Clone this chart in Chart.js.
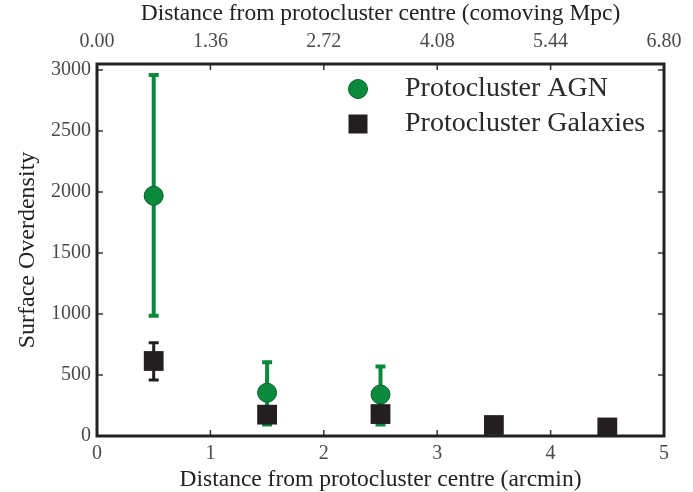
<!DOCTYPE html>
<html>
<head>
<meta charset="utf-8">
<script src="https://cdn.jsdelivr.net/npm/chart.js@4"></script>
<style>
  body { margin: 0; background: #fff; }
  #wrap { width: 693px; height: 492px; }
</style>
</head>
<body>
<div id="wrap"><canvas id="overdensityChart"></canvas></div>
<script>
// values
const agnX = [0.5, 1.5, 2.5];
const agnY = [1970, 355, 340];
const agnLow = [985, 95, 95];
const agnHigh = [2960, 605, 570];

const galX = [0.5, 1.5, 2.5, 3.5, 4.5];
const galY = [615, 175, 180, 90, 70];
const galLow = [460, 130, 135, 60, 45];
const galHigh = [765, 215, 220, 120, 95];

const bottomTicks = [0, 1, 2, 3, 4, 5];
const topTicks = [0, 1.36, 2.72, 4.08, 5.44, 6.80];
const leftTicks = [0, 500, 1000, 1500, 2000, 2500, 3000];

const green = '#0b8a3e';
const black = '#231f20';
const serif = '"Liberation Serif", "DejaVu Serif", serif';

const errorBars = [
    { x: agnX, low: agnLow, high: agnHigh, color: green, width: 4 },
    { x: galX, low: galLow, high: galHigh, color: black, width: 3 }
];

const errorBarPlugin = {
    id: 'errorBars',
    beforeDatasetsDraw(chart) {
        const ctx = chart.ctx;
        const xs = chart.scales.x, ys = chart.scales.y;
        ctx.save();
        errorBars.forEach(set => {
            ctx.strokeStyle = set.color;
            ctx.lineWidth = set.width;
            set.x.forEach((xv, i) => {
                const px = xs.getPixelForValue(xv);
                const top = ys.getPixelForValue(set.high[i]);
                const bot = ys.getPixelForValue(set.low[i]);
                ctx.beginPath();
                ctx.moveTo(px, top); ctx.lineTo(px, bot);
                ctx.moveTo(px - 5, top); ctx.lineTo(px + 5, top);
                ctx.moveTo(px - 5, bot); ctx.lineTo(px + 5, bot);
                ctx.stroke();
            });
        });
        ctx.restore();
    }
};

const framePlugin = {
    id: 'frame',
    afterDraw(chart) {
        const ctx = chart.ctx;
        const a = chart.chartArea;
        const xs = chart.scales.x, x2 = chart.scales.x2, ys = chart.scales.y;
        ctx.save();
        // inward ticks
        ctx.strokeStyle = '#333';
        ctx.lineWidth = 1.5;
        ctx.beginPath();
        bottomTicks.forEach(v => {
            const p = xs.getPixelForValue(v);
            ctx.moveTo(p, a.bottom); ctx.lineTo(p, a.bottom - 6);
        });
        topTicks.forEach(v => {
            const p = x2.getPixelForValue(v);
            ctx.moveTo(p, a.top); ctx.lineTo(p, a.top + 6);
        });
        leftTicks.forEach(v => {
            const p = ys.getPixelForValue(v);
            ctx.moveTo(a.left, p); ctx.lineTo(a.left + 6, p);
            ctx.moveTo(a.right, p); ctx.lineTo(a.right - 6, p);
        });
        ctx.stroke();
        // box
        ctx.strokeStyle = '#222';
        ctx.lineWidth = 3;
        ctx.strokeRect(a.left, a.top, a.right - a.left, a.bottom - a.top);

        // legend
        const lx = a.left + 261, ly1 = a.top + 25, ly2 = a.top + 60;
        ctx.fillStyle = green;
        ctx.strokeStyle = '#0a5e2c';
        ctx.lineWidth = 1;
        ctx.beginPath();
        ctx.arc(lx, ly1, 9.5, 0, Math.PI * 2);
        ctx.fill(); ctx.stroke();
        ctx.fillStyle = black;
        ctx.fillRect(lx - 9.5, ly2 - 9.5, 19, 19);
        ctx.font = '28px ' + serif;
        ctx.fillStyle = '#2a2a2a';
        ctx.textBaseline = 'middle';
        ctx.fillText('Protocluster AGN', lx + 47, ly1);
        ctx.fillText('Protocluster Galaxies', lx + 47, ly2);
        ctx.restore();
    }
};

const ctx = document.getElementById('overdensityChart').getContext('2d');
new Chart(ctx, {
    type: 'scatter',
    data: {
        datasets: [
            {
                label: 'Protocluster AGN',
                data: agnX.map((x, i) => ({ x: x, y: agnY[i] })),
                pointStyle: 'circle',
                pointRadius: 9.5,
                backgroundColor: green,
                borderColor: '#0a5e2c',
                borderWidth: 1,
                order: 2
            },
            {
                label: 'Protocluster Galaxies',
                data: galX.map((x, i) => ({ x: x, y: galY[i] })),
                pointStyle: 'rect',
                pointRadius: 14,
                backgroundColor: black,
                borderColor: black,
                borderWidth: 0,
                order: 1
            }
        ]
    },
    options: {
        responsive: true,
        maintainAspectRatio: false,
        animation: false,
        layout: { padding: { left: 0, right: 29, top: 0, bottom: 0 } },
        plugins: {
            legend: { display: false },
            tooltip: { enabled: false }
        },
        scales: {
            x: {
                type: 'linear',
                position: 'bottom',
                min: 0, max: 5,
                afterBuildTicks: axis => { axis.ticks = bottomTicks.map(v => ({ value: v })); },
                afterFit: axis => { axis.height = 56; },
                grid: { display: false, drawTicks: false },
                border: { display: false },
                ticks: { padding: 6, color: '#4a4a4a', font: { family: serif, size: 20 } },
                title: {
                    display: true,
                    text: 'Distance from protocluster centre (arcmin)',
                    color: '#222',
                    font: { family: serif, size: 23.5, lineHeight: 1 },
                    padding: { top: 0, bottom: 0 }
                }
            },
            x2: {
                type: 'linear',
                position: 'top',
                min: 0, max: 6.8,
                afterBuildTicks: axis => { axis.ticks = topTicks.map(v => ({ value: v })); },
                afterFit: axis => { axis.height = 64; },
                grid: { display: false, drawTicks: false },
                border: { display: false },
                ticks: {
                    padding: 10, color: '#4a4a4a', font: { family: serif, size: 20 },
                    callback: v => Number(v).toFixed(2)
                },
                title: {
                    display: true,
                    text: 'Distance from protocluster centre (comoving Mpc)',
                    color: '#222',
                    font: { family: serif, size: 23.5 },
                    padding: { top: 0, bottom: 0 }
                }
            },
            y: {
                min: 0, max: 3050,
                afterBuildTicks: axis => { axis.ticks = leftTicks.map(v => ({ value: v })); },
                afterFit: axis => { axis.width = 97; },
                grid: { display: false, drawTicks: false },
                border: { display: false },
                ticks: {
                    padding: 6, color: '#4a4a4a', font: { family: serif, size: 20 },
                    callback: v => String(v)
                },
                title: {
                    display: true,
                    text: 'Surface Overdensity',
                    color: '#222',
                    font: { family: serif, size: 24 },
                    padding: { top: 13, bottom: 0 }
                }
            }
        }
    },
    plugins: [errorBarPlugin, framePlugin]
});
</script>
</body>
</html>
